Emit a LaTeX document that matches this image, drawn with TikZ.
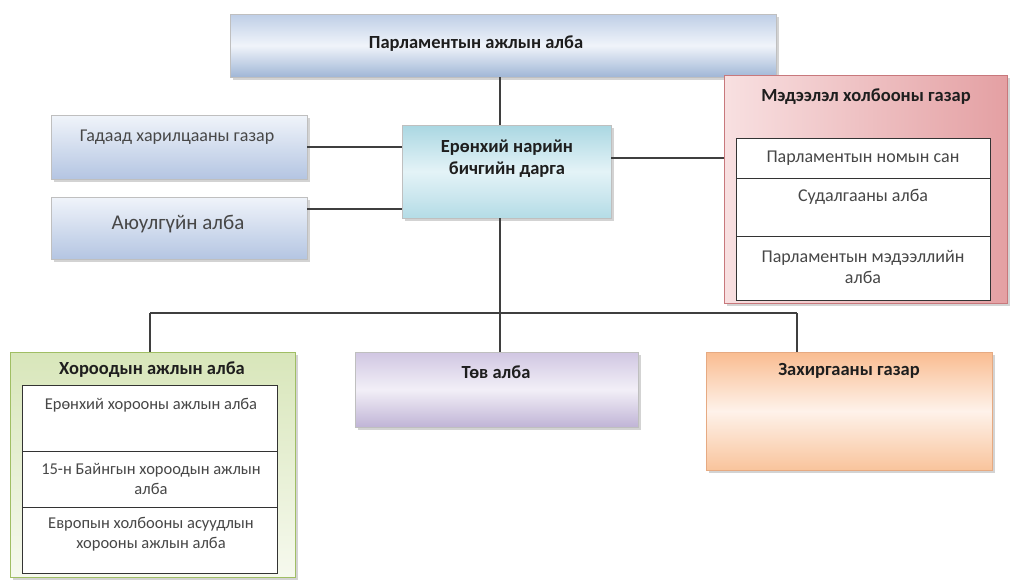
\documentclass[tikz,border=0pt]{standalone}
\usepackage{fontspec}
\setmainfont{Carlito}
\usetikzlibrary{shadows}
\definecolor{linegray}{HTML}{3F3F3F}
\definecolor{txt}{HTML}{1E1E1E}
% fills
\definecolor{topA}{RGB}{190,206,230}
\definecolor{topB}{RGB}{240,244,250}
\definecolor{topC}{RGB}{160,182,214}
\definecolor{sideA}{RGB}{240,244,250}
\definecolor{sideB}{RGB}{180,197,226}
\definecolor{genA}{RGB}{170,215,226}
\definecolor{genB}{RGB}{228,243,247}
\definecolor{genC}{RGB}{180,220,230}
\definecolor{medA}{RGB}{248,224,225}
\definecolor{medB}{RGB}{228,160,163}
\definecolor{medE}{RGB}{200,120,124}
\definecolor{khA}{RGB}{216,230,186}
\definecolor{khB}{RGB}{246,249,238}
\definecolor{khE}{RGB}{160,190,100}
\definecolor{tvA}{RGB}{208,198,226}
\definecolor{tvB}{RGB}{242,239,247}
\definecolor{tvC}{RGB}{192,180,214}
\definecolor{zkA}{RGB}{249,188,144}
\definecolor{zkB}{RGB}{254,242,234}
\definecolor{zkC}{RGB}{249,196,156}
\definecolor{zkE}{RGB}{230,170,130}
\begin{document}
\begin{tikzpicture}[x=1pt,y=-1pt,
  box/.style={rectangle, inner sep=0pt, draw=#1, line width=0.8pt,
    drop shadow={shadow xshift=2.5pt, shadow yshift=-3pt, opacity=0.35, fill=gray}},
  conn/.style={draw=linegray, line width=1.4pt},
  ttl/.style={font=\fontsize{18.5}{22}\selectfont\bfseries, text=txt, align=center},
  lbl/.style={font=\fontsize{18}{21}\selectfont, text=black!72, align=center},
  small/.style={font=\fontsize{16.5}{20}\selectfont, text=black!72, align=center},
  sub/.style={rectangle, inner sep=0pt, fill=white, draw=black!80, line width=1pt}
]
\useasboundingbox (0,0) rectangle (1010,579);

% ---- boxes ----
\node[box=black!25, top color=topA, bottom color=topC, middle color=topB,
      minimum width=546, minimum height=63] (top) at (503,45.5) {};
\node[box=black!25, top color=sideA, bottom color=sideB,
      minimum width=256, minimum height=64] (gad) at (179,147) {};
\node[box=black!25, top color=sideA, bottom color=sideB,
      minimum width=256, minimum height=62] (ayu) at (179,228) {};
\node[box=black!25, top color=genA, bottom color=genC, middle color=genB,
      minimum width=209, minimum height=93] (gen) at (506.5,171.5) {};
\node[box=medE, left color=medA, right color=medB,
      minimum width=283, minimum height=228] (med) at (865.5,189) {};
\node[sub, minimum width=254, minimum height=162] (medin) at (863,219) {};
\node[box=khE, top color=khA, bottom color=khB,
      minimum width=285, minimum height=225] (khor) at (152.5,464.5) {};
\node[sub, minimum width=255, minimum height=188] (khorin) at (149.5,479) {};
\node[box=black!25, top color=tvA, bottom color=tvC, middle color=tvB,
      minimum width=283, minimum height=75] (tov) at (496.5,389.5) {};
\node[box=zkE, top color=zkA, bottom color=zkC, middle color=zkB,
      minimum width=286, minimum height=118] (zakh) at (849,411) {};

% ---- dividers inside the white panels ----
\coordinate (md1) at (736,178);
\coordinate (md2) at (736,236);
\coordinate (kd1) at (22,451);
\coordinate (kd2) at (22,507);
\draw[black!80, line width=1pt] (md1) -- (md1 -| medin.east);
\draw[black!80, line width=1pt] (md2) -- (md2 -| medin.east);
\draw[black!80, line width=1pt] (kd1) -- (kd1 -| khorin.east);
\draw[black!80, line width=1pt] (kd2) -- (kd2 -| khorin.east);

% ---- connectors ----
\coordinate (trunk) at (500,313);
\coordinate (lft) at (150,313);
\coordinate (rgt) at (797,313);
\draw[conn] (top.south -| trunk) -- (gen.north -| trunk);
\draw[conn] (gen.south -| trunk) -- (trunk);
\draw[conn] (trunk) -- (tov.north -| trunk);
\draw[conn] (lft) -- (rgt);
\draw[conn] (lft) -- (khor.north -| lft);
\draw[conn] (rgt) -- (zakh.north -| rgt);
\draw[conn] (gad.east |- 0,147) -- (gen.west |- 0,147);
\draw[conn] (ayu.east |- 0,209) -- (gen.west |- 0,209);
\draw[conn] (gen.east |- 0,158) -- (med.west |- 0,158);

% ---- texts ----
\node[ttl] (ttop) at (476,44) {Парламентын ажлын алба};
\node[lbl] (tgad) at (177,137) {Гадаад харилцааны газар};
\node[lbl, font=\fontsize{21}{24}\selectfont] (tayu) at (178,224) {Аюулгүйн алба};
\node[ttl] (tgen) at (507,159) {Ерөнхий нарийн\\бичгийн дарга};
\node[ttl] (tmed) at (866,97) {Мэдээлэл холбооны газар};
\node[lbl] (tm1) at (863,158) {Парламентын номын сан};
\node[lbl] (tm2) at (863,197) {Судалгааны алба};
\node[lbl] (tm3) at (863,267) {Парламентын мэдээллийн\\алба};
\node[ttl] (tkhor) at (152,370) {Хороодын ажлын алба};
\node[small] (tk1) at (151,405) {Ерөнхий хорооны ажлын алба};
\node[small] (tk2) at (151,479) {15-н Байнгын хороодын ажлын\\алба};
\node[small] (tk3) at (151,534) {Европын холбооны асуудлын\\хорооны ажлын алба};
\node[ttl] (ttov) at (496,372) {Төв алба};
\node[ttl] (tzakh) at (849,371) {Захиргааны газар};
\end{tikzpicture}
\end{document}
